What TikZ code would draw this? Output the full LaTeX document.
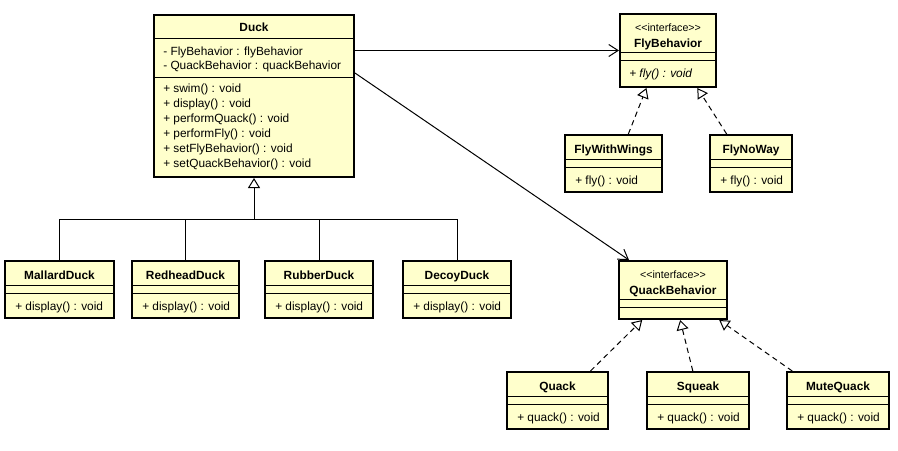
\documentclass[tikz,border=0pt]{standalone}
\usepackage{fontspec}
\newfontfamily\umlfont[Ligatures=TeXOff]{Liberation Sans}
\usetikzlibrary{arrows.meta,calc,fit}
\definecolor{classfill}{HTML}{FFFFCC}

\begin{document}
\begin{tikzpicture}[
  x=0.75pt,
  y=-0.75pt,
  every node/.style={font=\umlfont\fontsize{8.9}{10}\selectfont, inner sep=0pt, text height=6pt, text depth=0pt},
  classbox/.style={draw=black, line width=1.5pt, fill=classfill, inner sep=0pt},
  title/.style={font=\umlfont\bfseries\fontsize{8.9}{10}\selectfont},
  member/.style={anchor=west},
  stereo/.style={font=\umlfont\fontsize{8}{10}\selectfont},
  sepline/.style={line width=0.75pt},
  assoc/.style={line width=0.75pt, -{Straight Barb[length=7pt,width=9pt]}},
  generalize/.style={line width=0.75pt, -{Triangle[open,fill=white,length=7.5pt,width=9pt]}},
  realize/.style={generalize, dash pattern=on 4pt off 3pt}
]
  \useasboundingbox (0,0) rectangle (898,450);

  % name, left, right, top, title, operation
  \def\simpleclass#1#2#3#4#5#6{%
    \node[classbox, fit={(#2,#4) (#3,#4+57)}] (#1) {};
    \node[title] (#1-name) at ({(#2+#3)/2},#4+14) {#5};
    \draw[sepline] (#2,#4+24) -- (#3,#4+24);
    \draw[sepline] (#2,#4+32) -- (#3,#4+32);
    \node[member] (#1-op) at (#2+10,#4+45) {#6};
  }
  % name, left, right, top, bottom, title
  \def\interfaceclass#1#2#3#4#5#6{%
    \node[classbox, fit={(#2,#4) (#3,#5)}] (#1) {};
    \node[stereo] (#1-stereo) at ({(#2+#3)/2},#4+13) {<<interface>>};
    \node[title] (#1-name) at ({(#2+#3)/2},#4+29) {#6};
    \draw[sepline] (#2,#4+38) -- (#3,#4+38);
    \draw[sepline] (#2,#4+46) -- (#3,#4+46);
  }

  % Duck
  \node[classbox, fit={(154,15) (354,177)}] (duck) {};
  \node[title] (duck-name) at (254,27) {Duck};
  \draw[sepline] (154,38) -- (354,38);
  \draw[sepline] (154,77) -- (354,77);
  \node[member] (duck-fly) at (163,51) {- FlyBehavior : flyBehavior};
  \node[member] (duck-quack) at (163,65.5) {- QuackBehavior : quackBehavior};
  \foreach \op [count=\i from 0] in {swim(),display(),performQuack(),performFly(),setFlyBehavior(),setQuackBehavior()}
    \node[member] (duck-op\i) at (163,88.5+14.9*\i) {+ \op{} : void};

  % subclasses
  \simpleclass{mallard}{5}{114}{261}{MallardDuck}{+ display() : void}
  \simpleclass{redhead}{132}{239}{261}{RedheadDuck}{+ display() : void}
  \simpleclass{rubber}{265}{373}{261}{RubberDuck}{+ display() : void}
  \simpleclass{decoy}{403}{511}{261}{DecoyDuck}{+ display() : void}

  % fly behaviour
  \interfaceclass{flyb}{620}{716}{14}{87}{FlyBehavior}
  \node[member, font=\umlfont\itshape\fontsize{8.9}{10}\selectfont] (flyb-op) at (629,73) {+ fly() : void};
  \simpleclass{fww}{565}{662}{135}{FlyWithWings}{+ fly() : void}
  \simpleclass{fnw}{710}{792}{135}{FlyNoWay}{+ fly() : void}

  % quack behaviour
  \interfaceclass{quackb}{619}{727}{261}{319}{QuackBehavior}
  \simpleclass{quack}{507}{608}{372}{Quack}{+ quack() : void}
  \simpleclass{squeak}{647}{749}{372}{Squeak}{+ quack() : void}
  \simpleclass{mute}{787}{889}{372}{MuteQuack}{+ quack() : void}

  % associations
  \draw[assoc] (duck.east |- flyb.west) -- (flyb.west);
  \draw[assoc] ($(duck.north east)!0.36!(duck.south east)$) -- ($(quackb.north west)!0.1!(quackb.north east)$);

  % inheritance tree
  \coordinate (bus) at (254,219);
  \foreach \sub in {mallard,redhead,rubber,decoy}
    \draw[sepline] (\sub.north) |- (bus);
  \draw[generalize] (bus) -- (duck.south);

  % realizations
  \draw[realize] ($(fww.north west)!0.65!(fww.north east)$) -- ($(flyb.south west)!0.28!(flyb.south east)$);
  \draw[realize] ($(fnw.north west)!0.21!(fnw.north east)$) -- ($(flyb.south west)!0.8!(flyb.south east)$);
  \draw[realize] ($(quack.north west)!0.82!(quack.north east)$) -- ($(quackb.south west)!0.22!(quackb.south east)$);
  \draw[realize] ($(squeak.north west)!0.45!(squeak.north east)$) -- ($(quackb.south west)!0.565!(quackb.south east)$);
  \draw[realize] ($(mute.north west)!0.06!(mute.north east)$) -- ($(quackb.south west)!0.92!(quackb.south east)$);
\end{tikzpicture}
\end{document}
